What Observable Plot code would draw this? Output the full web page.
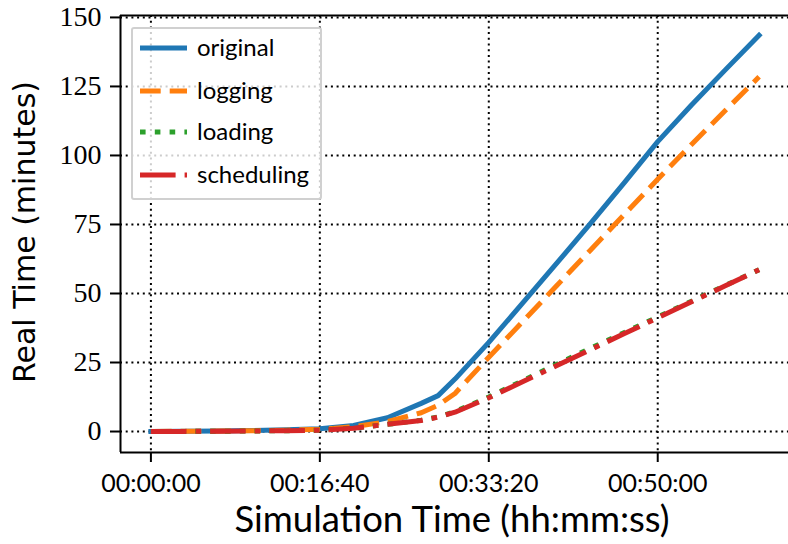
<!DOCTYPE html>
<html><head><meta charset="utf-8">
<script src="https://cdn.jsdelivr.net/npm/d3@7"></script>
<script src="https://cdn.jsdelivr.net/npm/@observablehq/plot@0.6"></script>
<style>
html,body{margin:0;padding:0;overflow:hidden;background:#fff;}
</style></head><body><div id="chart"></div>
<script>
// simulation time (seconds)
const times =      [0, 200, 400, 600, 800, 1000, 1200, 1400, 1600, 1700, 1800, 2000, 2200, 2400, 2600, 2800, 3000, 3200, 3400, 3600];
// real time (minutes)
const original =   [0, 0.1, 0.2, 0.35, 0.6, 1.0, 2.2, 5.0, 10.2, 13.0, 19.0, 32.3, 46.5, 60.8, 75.2, 90.0, 105.0, 118.3, 131.0, 143.5];
const logging =    [0, 0.1, 0.15, 0.3, 0.5, 0.8, 1.7, 3.6, 6.8, 9.5, 13.8, 26.9, 39.8, 52.7, 65.6, 78.5, 91.4, 104.0, 116.3, 128.5];
const loading =    [0, 0.05, 0.1, 0.2, 0.3, 0.5, 1.2, 2.6, 4.1, 5.3, 7.2, 12.5, 18.4, 24.3, 30.1, 35.8, 41.5, 47.2, 52.9, 58.6];
const scheduling = [0, 0.05, 0.1, 0.2, 0.3, 0.5, 1.2, 2.6, 4.0, 5.2, 7.0, 12.2, 18.0, 23.8, 29.6, 35.4, 41.2, 47.0, 52.8, 58.6];

const seriesNames = ["original", "logging", "loading", "scheduling"];
const seriesValues = [original, logging, loading, scheduling];
const seriesColors = ["#1f77b4", "#ff7f0e", "#2ca02c", "#d62728"];
const seriesDash = [null, "20.7 9", "5.6 9.2", "35.6 9 5.6 9"];

const xTicks = [0, 1000, 2000, 3000];
const xTickLabels = ["00:00:00", "00:16:40", "00:33:20", "00:50:00"];
const yTicks = [0, 25, 50, 75, 100, 125, 150];
const yTickLabels = ["0", "25", "50", "75", "100", "125", "150"];
const xDomain = [-180, 3780];
const yDomain = [-7.6, 150.7];

const rows = [];
seriesNames.forEach((name, i) => times.forEach((t, j) => rows.push({series: name, t, v: seriesValues[i][j]})));

const W = 792, H = 544, ML = 120, MR = 3, MT = 15, MB = 92;
const gridStyle = {stroke: "#000", strokeOpacity: 1, strokeWidth: 2, strokeDasharray: "2 3.7"};

const lineMarks = seriesNames.map((name, i) => Plot.line(rows.filter(r => r.series === name), {
  x: "t", y: "v", stroke: seriesColors[i], strokeWidth: 5,
  strokeDasharray: seriesDash[i] || undefined,
  strokeLinecap: seriesDash[i] ? "butt" : "square", strokeLinejoin: "round"
}));

const chart = Plot.plot({
  width: W, height: H, marginLeft: ML, marginRight: MR, marginTop: MT, marginBottom: MB,
  style: {background: "white", color: "black", overflow: "visible", maxWidth: "none"},
  x: {domain: xDomain},
  y: {domain: yDomain},
  marks: [
    Plot.gridX(xTicks, gridStyle),
    Plot.gridY(yTicks, gridStyle),
    ...lineMarks,
    Plot.ruleX([xDomain[0]], {stroke: "#000", strokeWidth: 2}),
    Plot.ruleY([yDomain[0], yDomain[1]], {stroke: "#000", strokeWidth: 2}),
    Plot.axisX(xTicks, {tickSize: 10, tickPadding: 12, strokeWidth: 2, label: null,
      tickFormat: d => xTickLabels[xTicks.indexOf(d)], fontFamily: "Lato", fontSize: 25, fill: "#000"}),
    Plot.axisY(yTicks, {tickSize: 10, tickPadding: 9, strokeWidth: 2, label: null,
      tickFormat: d => yTickLabels[yTicks.indexOf(d)], fontFamily: "Liberation Serif", fontSize: 28, fill: "#000"})
  ]
});
chart.style.maxWidth = "none";
chart.style.width = W + "px";
document.getElementById("chart").appendChild(chart);

const svg = d3.select(chart);
// axis titles
svg.append("text").attr("x", 452).attr("y", 532).attr("text-anchor", "middle")
  .attr("font-family", "Lato").attr("font-size", 36.5).attr("fill", "#000")
  .text("Simulation Time (hh:mm:ss)");
svg.append("text").attr("transform", "translate(35,232) rotate(-90)").attr("text-anchor", "middle")
  .attr("font-family", "DejaVu Sans").attr("font-size", 30).attr("fill", "#000")
  .text("Real Time (minutes)");

// legend
const lg = svg.append("g");
lg.append("rect").attr("x", 132).attr("y", 28).attr("width", 189).attr("height", 171).attr("rx", 2)
  .attr("fill", "white").attr("fill-opacity", 0.8).attr("stroke", "#d0d0d0").attr("stroke-width", 2);
const rowY = [48, 91, 132, 175];
seriesNames.forEach((name, i) => {
  lg.append("line").attr("x1", 140).attr("x2", 187).attr("y1", rowY[i]).attr("y2", rowY[i])
    .attr("stroke", seriesColors[i]).attr("stroke-width", 5)
    .attr("stroke-dasharray", seriesDash[i] || null).attr("stroke-linecap", "butt");
  lg.append("text").attr("x", 197).attr("y", rowY[i]).attr("dy", "0.35em").attr("text-anchor", "start")
    .attr("font-family", "Lato").attr("font-size", 24).attr("fill", "#000").text(name);
});
</script></body></html>
